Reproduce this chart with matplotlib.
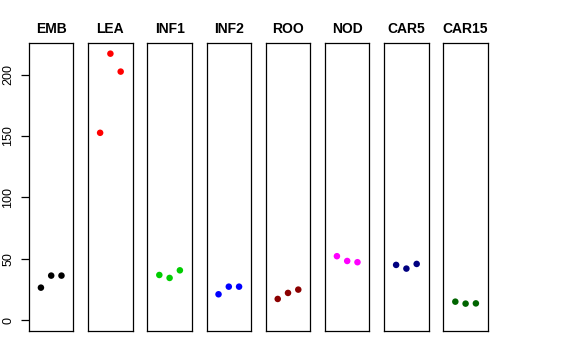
import matplotlib
matplotlib.use("Agg")
import matplotlib.pyplot as plt

tissues = ["EMB", "LEA", "INF1", "INF2", "ROO", "NOD", "CAR5", "CAR15"]
colors = ["#000000", "#FF0000", "#00CD00", "#0000FF", "#8B0000", "#FF00FF", "#000080", "#006400"]
values = {
    "EMB": [26.6, 36.4, 36.4],
    "LEA": [152.6, 217.0, 202.4],
    "INF1": [36.9, 34.5, 40.7],
    "INF2": [21.2, 27.4, 27.4],
    "ROO": [17.4, 22.3, 25.0],
    "NOD": [52.2, 48.3, 47.3],
    "CAR5": [45.1, 42.1, 45.9],
    "CAR15": [15.2, 13.6, 13.8],
}
reps = [1, 2, 3]
yticks = [0, 50, 100, 150, 200]

plt.rcParams['font.family'] = ['Liberation Sans', 'DejaVu Sans']
W, H = 576, 360
fig = plt.figure(figsize=(W / 100, H / 100), dpi=100)

top, bottom = 43, 331
left0, step, width = 29, 59.2, 44.4
ymin, ymax = 0, 217
pad = 0.04 * (ymax - ymin)

for i, (t, c) in enumerate(zip(tissues, colors)):
    x0 = left0 + i * step
    ax = fig.add_axes([x0 / W, (H - bottom) / H, width / W, (bottom - top) / H])
    ax.scatter(reps, values[t], s=22, color=c, edgecolors='none', zorder=3)
    ax.set_xlim(-0.16, 4.16)
    ax.set_ylim(ymin - pad, ymax + pad)
    ax.set_xticks([])
    for s in ax.spines.values():
        s.set_linewidth(0.9)
        s.set_color('black')
    ax.set_title(t, fontsize=10, fontweight='bold', pad=7)
    if i == 0:
        ax.set_yticks(yticks)
        ax.set_yticklabels([str(v) for v in yticks], rotation=90, va='center', fontsize=9)
        ax.tick_params(axis='y', length=5.5, width=0.9, pad=5)
    else:
        ax.set_yticks([])

fig.savefig("out.png", dpi=100)
